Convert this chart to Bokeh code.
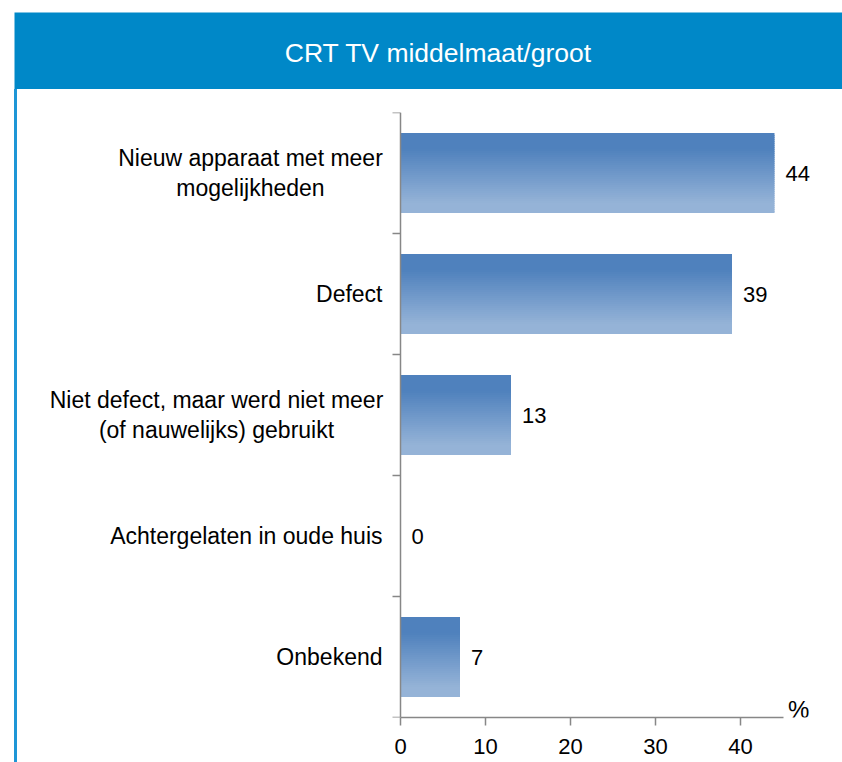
import numpy as np
from bokeh.plotting import figure
from bokeh.layouts import column, row, Spacer
from bokeh.models import FixedTicker, Range1d
from bokeh.core.properties import value
from bokeh.embed import file_html
from bokeh.resources import INLINE

# ---- data ----
title_text = "CRT TV middelmaat/groot"
categories = [
    "Nieuw apparaat met meer\nmogelijkheden",
    "Defect",
    "Niet defect, maar werd niet meer\n(of nauwelijks) gebruikt",
    "Achtergelaten in oude huis",
    "Onbekend",
]
values = [44, 39, 13, 0, 7]
x_ticks = [0, 10, 20, 30, 40]
x_axis_max = 45
unit_label = "%"

# ---- style ----
FONT = "Liberation Sans"
HEADER_BLUE = "#0088C8"
LINE_BLUE = "#1E96D6"
AXIS_GREY = "#878787"
TOP_RGB = np.array([79, 129, 189])
BOT_RGB = np.array([149, 179, 215])
# screen offsets (px) of the centred two-line category labels from the axis
multiline_offsets = {0: -150, 2: -184}

n = len(categories)
centers = [n - 1 - i + 0.5 for i in range(n)]

W = 842
HEADER_H = 89
MAIN_H = 762 - HEADER_H
GAP_W = 14
STRIP_W = 3
PX_PER_UNIT = 8.5
MAIN_W = W - GAP_W - STRIP_W
x_end = 52
x_start = x_end - MAIN_W / PX_PER_UNIT

# ---- header ----
header = figure(width=W, height=HEADER_H, x_range=Range1d(0, 1), y_range=Range1d(0, 1),
                x_axis_location=None, y_axis_location=None, toolbar_location=None,
                output_backend="svg", min_border_left=14, min_border_right=0,
                min_border_top=12, min_border_bottom=0, outline_line_color=None,
                background_fill_color=HEADER_BLUE, border_fill_color="white")
header.grid.visible = False
header.text(x=[0.512], y=[0.48], text=[title_text], text_align="center",
            text_baseline="middle", text_color="white",
            text_font=value(FONT), text_font_size="26.5px")

# ---- left blue rule ----
strip = Spacer(width=STRIP_W, height=MAIN_H, styles={"background-color": LINE_BLUE})

# ---- main chart ----
p = figure(width=MAIN_W, height=MAIN_H, x_range=Range1d(x_start, x_end), y_range=Range1d(0, n),
           toolbar_location=None, output_backend="svg",
           min_border_left=0, min_border_right=0, min_border_top=23,
           min_border_bottom=762 - 717,
           outline_line_color=None, background_fill_color="white", border_fill_color="white")
p.grid.visible = False

# gradient bars built from thin slices
bar_h = 0.66
N = 40
lefts, rights, tops, bottoms, colors = [], [], [], [], []
for v, yc in zip(values, centers):
    ytop = yc + bar_h / 2
    ybot = yc - bar_h / 2
    for k in range(N):
        t = (k + 0.5) / N
        s = min(max((t - 0.2) / 0.68, 0.0), 1.0)
        rgb = (TOP_RGB + (BOT_RGB - TOP_RGB) * s).round().astype(int)
        top = ytop - k * bar_h / N
        bot = max(ybot, top - 1.6 * bar_h / N)
        lefts.append(0)
        rights.append(v)
        tops.append(top)
        bottoms.append(bot)
        colors.append("#%02x%02x%02x" % tuple(rgb))
p.quad(left=lefts, right=rights, top=tops, bottom=bottoms, fill_color=colors, line_color=None)

# value labels
p.text(x=values, y=centers, text=[str(v) for v in values], x_offset=11,
       text_align="left", text_baseline="middle", text_color="black",
       text_font=value(FONT), text_font_size="22px")

# category labels (single line: right aligned; two lines: centred block)
single_idx = [i for i, c in enumerate(categories) if "\n" not in c]
multi_idx = [i for i, c in enumerate(categories) if "\n" in c]
p.text(x=[0] * len(single_idx), y=[centers[i] for i in single_idx],
       text=[categories[i] for i in single_idx], x_offset=-18,
       text_align="right", text_baseline="middle", text_color="black",
       text_font=value(FONT), text_font_size="23px")
p.text(x=[0] * len(multi_idx), y=[centers[i] for i in multi_idx],
       text=[categories[i] for i in multi_idx],
       x_offset=[multiline_offsets[i] for i in multi_idx],
       text_align="center", text_baseline="middle", text_color="black",
       text_font=value(FONT), text_font_size="23px", text_line_height=1.15)

# unit label
p.text(x=[x_axis_max], y=[0], text=[unit_label], x_offset=5, y_offset=-8,
       text_align="left", text_baseline="middle", text_color="black",
       text_font=value(FONT), text_font_size="24px")

# x axis
xa = p.xaxis[0]
xa.ticker = FixedTicker(ticks=x_ticks)
xa.bounds = (0, x_axis_max)
xa.axis_line_color = AXIS_GREY
xa.axis_line_width = 1.5
xa.major_tick_line_color = AXIS_GREY
xa.major_tick_line_width = 1.5
xa.major_tick_out = 8
xa.major_tick_in = 0
xa.minor_tick_line_color = None
xa.major_label_standoff = 13
xa.major_label_text_font = FONT
xa.major_label_text_font_size = "22px"
xa.major_label_text_color = "black"

# y axis: drawn at x = 0, with category-boundary ticks
ya = p.yaxis[0]
ya.fixed_location = 0
ya.ticker = FixedTicker(ticks=[], minor_ticks=list(range(n + 1)))
ya.axis_line_color = AXIS_GREY
ya.axis_line_width = 1.5
ya.major_tick_line_color = None
ya.major_tick_out = 0
ya.major_tick_in = 0
ya.minor_tick_line_color = AXIS_GREY
ya.minor_tick_line_width = 1.5
ya.minor_tick_out = 8
ya.minor_tick_in = 0
ya.major_label_text_font_size = "0px"

layout = column(header, row(Spacer(width=GAP_W, height=MAIN_H), strip, p, spacing=0), spacing=0)

open("out.html", "w").write(file_html(layout, INLINE))
